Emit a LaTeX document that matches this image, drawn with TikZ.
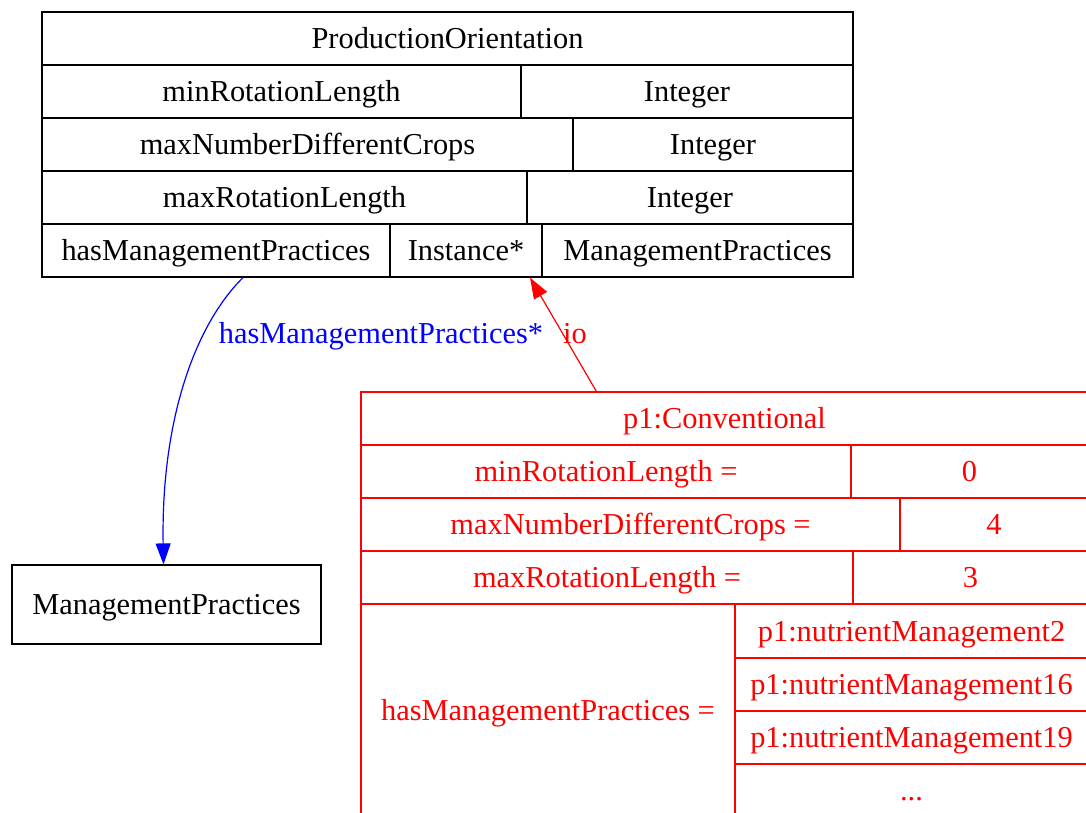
\documentclass[tikz,border=0pt]{standalone}
\usepackage{fontspec}
\setmainfont{Liberation Serif}
\usetikzlibrary{arrows.meta}
\newcommand\tcell[7][]{%
  \node[cellsty,#1,minimum width={(#5-#3)*1pt},minimum height={(#6-#4)*1pt}]
    (#2) at ({(#3+#5)/2},{(#4+#6)/2}) {#7};}
\tikzset{
  cellsty/.style={draw,rectangle,inner sep=0pt,line width=1.2pt,text height=26pt,text depth=6pt},
  redcell/.style={draw=red,text=red},
  edgetip/.style={-{Triangle[length=21pt,width=15pt]}},
  lbl/.style={inner sep=0pt,text height=26pt,text depth=6pt},
}
\begin{document}
\begin{tikzpicture}[x=1pt,y=-1pt,font=\fontsize{30.4}{36}\selectfont]
\useasboundingbox (0,0) rectangle (1086,813);
\clip (0,0) rectangle (1086,813);
% class table
\tcell{po}{42}{12}{853}{65}{ProductionOrientation}
\tcell{minr}{42}{65}{521}{118}{minRotationLength}
\tcell{minrt}{521}{65}{853}{118}{Integer}
\tcell{maxn}{42}{118}{573}{171}{maxNumberDifferentCrops}
\tcell{maxnt}{573}{118}{853}{171}{Integer}
\tcell{maxr}{42}{171}{527}{224}{maxRotationLength}
\tcell{maxrt}{527}{171}{853}{224}{Integer}
\tcell{hmp}{42}{224}{390}{277}{hasManagementPractices}
\tcell{inst}{390}{224}{542}{277}{Instance*}
\tcell{hmpt}{542}{224}{853}{277}{ManagementPractices}
% ManagementPractices box
\tcell{mp}{12}{565}{321}{644}{ManagementPractices}
% instance table
\tcell[redcell]{conv}{361}{392}{1088}{445}{p1:Conventional}
\tcell[redcell]{iminr}{361}{445}{851}{498}{minRotationLength =}
\tcell[redcell]{iminrv}{851}{445}{1088}{498}{0}
\tcell[redcell]{imaxn}{361}{498}{900}{551}{maxNumberDifferentCrops =}
\tcell[redcell]{imaxnv}{900}{498}{1088}{551}{4}
\tcell[redcell]{imaxr}{361}{551}{853}{604}{maxRotationLength =}
\tcell[redcell]{imaxrv}{853}{551}{1088}{604}{3}
\tcell[redcell]{ihmp}{361}{604}{735}{817}{hasManagementPractices =}
\tcell[redcell]{nm2}{735}{604}{1088}{658}{p1:nutrientManagement2}
\tcell[redcell]{nm16}{735}{658}{1088}{711}{p1:nutrientManagement16}
\tcell[redcell]{nm19}{735}{711}{1088}{764}{p1:nutrientManagement19}
\tcell[redcell]{nmdots}{735}{764}{1088}{817}{...}
% edge labels
\node[lbl,text=blue] (lab1) at (381,333) {hasManagementPractices*};
\node[lbl,text=red] (lab2) at (575,333) {io};
% edges
\draw[blue,line width=1.2pt,edgetip] ([xshift=27pt]hmp.south)
  .. controls (195,325) and (161,420) .. ([xshift=-3pt]mp.north);
\draw[red,line width=1.2pt,edgetip] ([xshift=236pt]conv.north west) -- ([xshift=64pt]inst.south);
\end{tikzpicture}
\end{document}
